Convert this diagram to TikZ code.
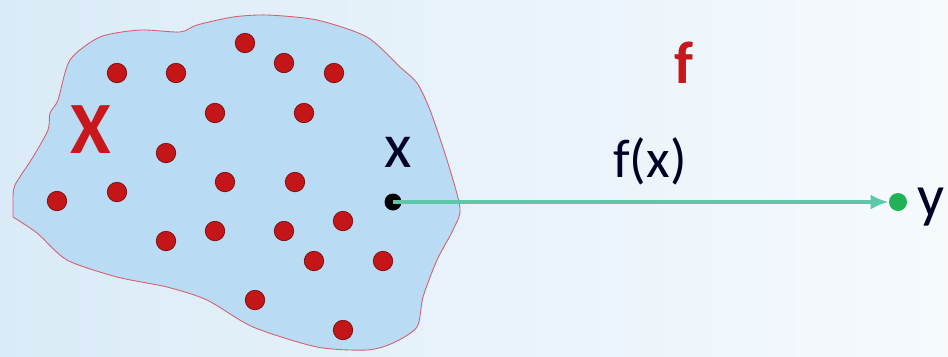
\documentclass[tikz,border=0pt]{standalone}
\usepackage{fontspec}
\setmainfont{Carlito}
\usetikzlibrary{arrows.meta,positioning}
\definecolor{dotred}{RGB}{196,22,24}
\definecolor{bigred}{RGB}{200,24,28}
\definecolor{setblue}{RGB}{186,219,244}
\definecolor{setedge}{RGB}{212,96,112}
\definecolor{mapteal}{RGB}{92,200,168}
\definecolor{imggreen}{RGB}{32,178,84}
\definecolor{bgleft}{RGB}{218,235,247}
\definecolor{bgright}{RGB}{246,250,253}

\begin{document}
\begin{tikzpicture}[>=Latex,x=0.02cm,y=-0.02cm,node distance=0.8cm]
  \tikzstyle{dot}=[circle,fill=dotred,draw=dotred!60!black,thin,minimum size=0.39cm,inner sep=0pt]
  \tikzstyle{lbl}=[inner sep=0pt,text=black!85!blue]
  % background
  \shade[left color=bgleft,right color=bgright] (0,0) rectangle (948,356);
  \useasboundingbox (0,0) rectangle (948,356);
  % the set X
  \draw[setedge,fill=setblue,line width=0.5pt] plot[smooth,tension=0.45] coordinates {
    (13,200) (15,185) (33,157) (48,130) (50,113) (58,100) (70,60) (100,37)
    (140,30) (180,32) (197,25) (233,17) (267,15) (317,20) (367,37) (400,67)
    (417,83) (430,110) (447,160) (460,208) (453,230) (437,260) (423,297)
    (417,327) (393,343) (367,350) (317,347) (253,327) (207,300) (167,287)
    (117,277) (67,260) (37,233) (13,217)} -- cycle;
  \node[text=bigred,font=\bfseries\fontsize{42}{42}\selectfont,inner sep=0pt] (setx) at (91,130) {X};
  % elements of X
  \foreach \i/\p in {1/{(245,43)},2/{(117,73)},3/{(176,73)},4/{(284,63)},5/{(334,73)},
      6/{(215,113)},7/{(304,113)},8/{(166,153)},9/{(225,182)},10/{(295,182)},
      11/{(57,201)},12/{(117,192)},13/{(166,241)},14/{(215,231)},15/{(284,231)},
      16/{(343,221)},17/{(314,261)},18/{(383,261)},19/{(255,300)},20/{(343,330)}}
    \node[dot] (d\i) at \p {};
  % the map
  \node[circle,fill=black,minimum size=0.34cm,inner sep=0pt] (px) at (393,202) {};
  \node[circle,fill=imggreen,minimum size=0.36cm,inner sep=0pt] (py) at (898,202) {};
  \draw[mapteal,line width=2.2pt,->,>={Latex[length=0.36cm,width=0.3cm]}] (px.center) -- (py.west);
  \node[lbl,font=\fontsize{36}{36}\selectfont] (xlab) at (398,152) {x};
  \node[lbl,font=\fontsize{34}{34}\selectfont,anchor=west] (ylab) at (917,207) {y};
  \node[lbl,font=\fontsize{31}{31}\selectfont] (fx) at (650,161) {f(x)};
  \node[text=bigred,font=\bfseries\fontsize{34}{34}\selectfont,inner sep=0pt] (fname) at (684,63) {f};
\end{tikzpicture}
\end{document}
